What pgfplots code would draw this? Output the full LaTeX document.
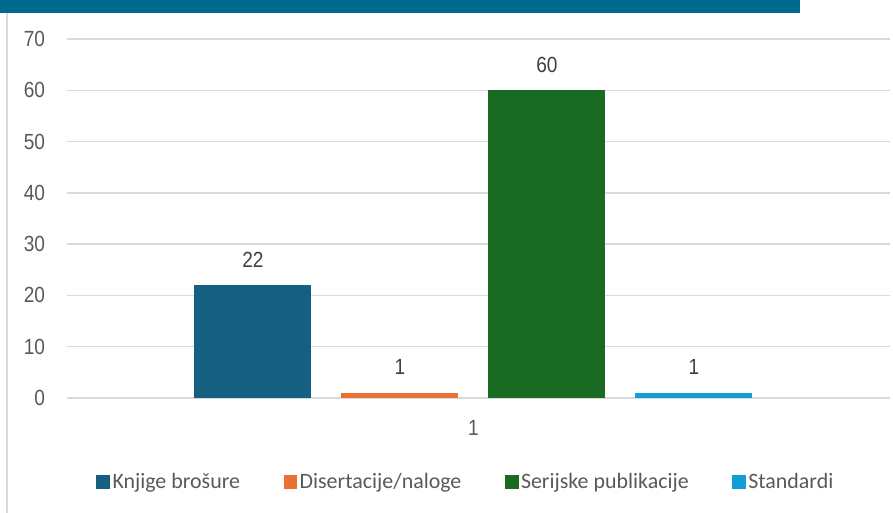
\documentclass[border=0pt]{standalone}
\usepackage{pgfplots}
\pgfplotsset{compat=1.18}
\usepackage{fontspec}
\setmainfont{Liberation Sans}[FakeStretch=0.87]
\newfontfamily\legfont{Carlito}

\definecolor{band}{HTML}{006A8E}
\definecolor{gridgray}{HTML}{D9D9D9}
\definecolor{txtgray}{HTML}{595959}
\definecolor{lblgray}{HTML}{404040}
\definecolor{accA}{HTML}{156082}
\definecolor{accB}{HTML}{E97132}
\definecolor{accC}{HTML}{196B24}
\definecolor{accD}{HTML}{0F9ED5}

\begin{document}
\begin{tikzpicture}
\begin{axis}[
    at={(67bp,115bp)}, anchor=south west,
    scale only axis,
    width=823bp, height=359bp,
    ybar=30bp,
    bar width=117bp,
    xmin=0, xmax=2.025,
    ymin=0, ymax=70,
    ytick={0,10,...,70},
    xtick={1}, xticklabels={1},
    axis line style={draw=none},
    major tick length=0pt,
    ymajorgrids,
    grid style={gridgray, line width=1.5bp},
    /pgf/number format/assume math mode=true,
    tick label style={font=\fontsize{22}{26}\selectfont, text=txtgray},
    yticklabel style={xshift=-18.5bp},
    xticklabel style={yshift=-19bp},
    nodes near coords,
    every node near coord/.append style={font=\fontsize{22}{26}\selectfont, text=lblgray, yshift=14.5bp},
    legend columns=4,
    legend style={at={(0.485,-0.233)}, anchor=center, draw=none, fill=none,
        font=\legfont\fontsize{22}{26}\selectfont, text=txtgray,
        nodes={inner xsep=2.5bp},
        /tikz/every even column/.append style={column sep=41bp}},
    legend image code/.code={\fill[#1] (0bp,-7bp) rectangle (13.6bp,7bp);},
]
\addplot[fill=accA, draw=none] coordinates {(1,22)};
\addplot[fill=accB, draw=none] coordinates {(1,1)};
\addplot[fill=accC, draw=none] coordinates {(1,60)};
\addplot[fill=accD, draw=none] coordinates {(1,1)};
\legend{Knjige brošure, Disertacije/naloge, Serijske publikacije, Standardi}
\end{axis}
\fill[band] (0bp,500bp) rectangle (800bp,513bp);
\draw[gridgray, line width=2bp] (7bp,0bp) -- (7bp,500bp);
\pgfresetboundingbox
\useasboundingbox (0bp,0bp) rectangle (893bp,513bp);
\end{tikzpicture}
\end{document}
